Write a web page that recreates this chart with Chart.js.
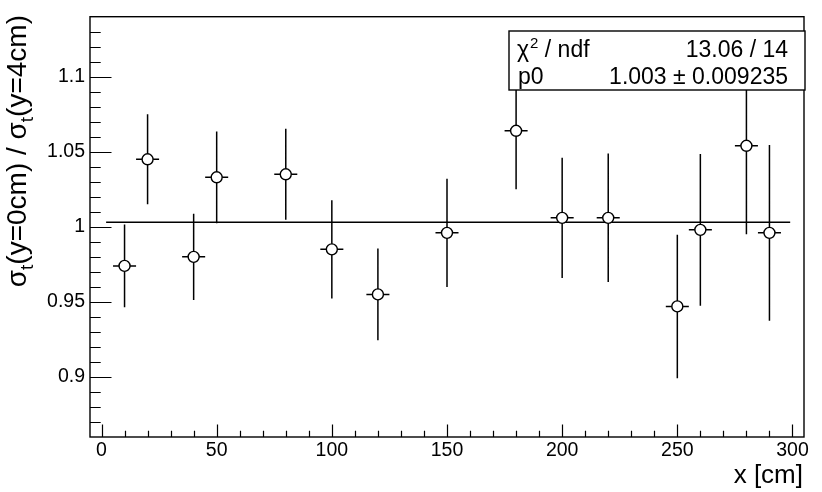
<!DOCTYPE html>
<html>
<head>
<meta charset="utf-8">
<script src="https://cdn.jsdelivr.net/npm/chart.js@4/dist/chart.umd.min.js"></script>
<style>
html,body{margin:0;padding:0;background:#fff;}
canvas{display:block;}
</style>
</head>
<body>
<canvas id="c" width="822" height="492"></canvas>
<script>
// ---- data ----
const xValues = [10, 20, 40, 50, 80, 100, 120, 150, 180, 200, 220, 250, 260, 280, 290];
const yValues = [0.974, 1.045, 0.980, 1.033, 1.035, 0.985, 0.955, 0.996, 1.064, 1.006, 1.006, 0.947, 0.998, 1.054, 0.996];
const yErrors = [0.0276, 0.0300, 0.0287, 0.0306, 0.0303, 0.0328, 0.0305, 0.0360, 0.0390, 0.0400, 0.0428, 0.0478, 0.0505, 0.0590, 0.0585];
const xErrors = [5, 5, 5, 5, 5, 5, 5, 5, 5, 5, 5, 5, 5, 5, 5];
const fitP0 = 1.003;
const fitRange = [2, 299];
const xTickValues = [0, 50, 100, 150, 200, 250, 300];
const xTickLabels = ['0', '50', '100', '150', '200', '250', '300'];
const yTickValues = [0.9, 0.95, 1.0, 1.05, 1.1];
const yTickLabels = ['0.9', '0.95', '1', '1.05', '1.1'];
const xMinorStep = 10, yMinorStep = 0.01;
const statRows = [['χ2 / ndf', '13.06 / 14'], ['p0', '1.003 ± 0.009235']];
const xTitle = 'x [cm]';

const FONT = '"Liberation Sans", Arial, Helvetica, sans-serif';

const rootPlugin = {
  id: 'rootStyle',
  beforeDatasetsDraw(chart) {
    const {ctx, chartArea: a, scales: {x, y}} = chart;
    ctx.save();
    ctx.strokeStyle = '#000';
    ctx.lineWidth = 1.4;
    ctx.strokeRect(a.left, a.top, a.right - a.left, a.bottom - a.top);
    ctx.lineWidth = 1.2;
    ctx.beginPath();
    for (let v = 0; v <= 300 + 1e-9; v += xMinorStep) {
      const px = Math.round(x.getPixelForValue(v)) + 0.5;
      const major = Math.abs(v % 50) < 1e-6;
      ctx.moveTo(px, a.bottom);
      ctx.lineTo(px, a.bottom - (major ? 12.5 : 6.3));
    }
    for (let k = 87; k <= 113; k++) {
      const v = k * yMinorStep;
      const py = Math.round(y.getPixelForValue(v)) + 0.5;
      const major = k % 5 === 0;
      ctx.moveTo(a.left, py);
      ctx.lineTo(a.left + (major ? 21.5 : 10.7), py);
    }
    ctx.stroke();
    ctx.restore();
  },
  beforeDatasetDraw(chart, args) {
    if (args.index !== 0) return;
    const {ctx, scales: {x, y}} = chart;
    ctx.save();
    ctx.strokeStyle = '#000';
    ctx.lineWidth = 1.5;
    ctx.beginPath();
    for (let i = 0; i < xValues.length; i++) {
      const px = x.getPixelForValue(xValues[i]);
      const py = y.getPixelForValue(yValues[i]);
      ctx.moveTo(px, y.getPixelForValue(yValues[i] - yErrors[i]));
      ctx.lineTo(px, y.getPixelForValue(yValues[i] + yErrors[i]));
      ctx.moveTo(x.getPixelForValue(xValues[i] - xErrors[i]), py);
      ctx.lineTo(x.getPixelForValue(xValues[i] + xErrors[i]), py);
    }
    ctx.stroke();
    ctx.restore();
  },
  afterDatasetsDraw(chart) {
    const {ctx} = chart;
    ctx.save();
    const bx0 = 509, by0 = 31, bx1 = 805, by1 = 90;
    ctx.fillStyle = '#fff';
    ctx.fillRect(bx0, by0, bx1 - bx0, by1 - by0);
    ctx.strokeStyle = '#000';
    ctx.lineWidth = 1.4;
    ctx.strokeRect(bx0, by0, bx1 - bx0, by1 - by0);
    ctx.fillStyle = '#000';
    ctx.textBaseline = 'alphabetic';
    const baselines = [56.5, 84];
    ctx.font = '23px ' + FONT;
    ctx.textAlign = 'left';
    let cx = 517;
    ctx.fillText('χ', cx, baselines[0]);
    cx += ctx.measureText('χ').width + 1;
    ctx.font = '15px ' + FONT;
    ctx.fillText('2', cx, baselines[0] - 9);
    cx += ctx.measureText('2').width;
    ctx.font = '23px ' + FONT;
    ctx.fillText(' / ndf', cx, baselines[0]);
    ctx.fillText(statRows[1][0], 518, baselines[1]);
    ctx.textAlign = 'right';
    ctx.fillText(statRows[0][1], 788, baselines[0]);
    ctx.fillText(statRows[1][1], 788, baselines[1]);
    ctx.restore();
  },
  afterDraw(chart) {
    const {ctx} = chart;
    ctx.save();
    ctx.fillStyle = '#000';
    ctx.font = '26px ' + FONT;
    ctx.textAlign = 'right';
    ctx.textBaseline = 'alphabetic';
    ctx.fillText(xTitle, 803, 483);
    const big = '28px ' + FONT, small = '19px ' + FONT;
    const parts = [['σ', big, 0], ['t', small, 7], ['(y=0cm) / ', big, 0], ['σ', big, 0], ['t', small, 7], ['(y=4cm)', big, 0]];
    let total = 0;
    for (const p of parts) { ctx.font = p[1]; total += ctx.measureText(p[0]).width; }
    ctx.translate(26, 15);
    ctx.rotate(-Math.PI / 2);
    ctx.textAlign = 'left';
    let lx = -total;
    for (const p of parts) {
      ctx.font = p[1];
      ctx.fillText(p[0], lx, p[2]);
      lx += ctx.measureText(p[0]).width;
    }
    ctx.restore();
  }
};

const pointData = xValues.map((v, i) => ({x: v, y: yValues[i]}));
const fitData = fitRange.map(v => ({x: v, y: fitP0}));

new Chart(document.getElementById('c'), {
  type: 'scatter',
  data: {
    datasets: [
      {
        label: 'data',
        data: pointData,
        order: 0,
        pointRadius: 5.5,
        pointBorderWidth: 1.4,
        pointBorderColor: '#000',
        pointBackgroundColor: '#fff',
        showLine: false
      },
      {
        label: 'fit',
        type: 'line',
        data: fitData,
        order: 1,
        borderColor: '#000',
        borderWidth: 1.5,
        pointRadius: 0,
        fill: false
      }
    ]
  },
  options: {
    responsive: false,
    animation: false,
    devicePixelRatio: 1,
    layout: {padding: {left: 0, top: 14, right: 18, bottom: 0}},
    plugins: {legend: {display: false}, tooltip: {enabled: false}},
    scales: {
      x: {
        type: 'linear', min: -5, max: 305,
        grid: {display: false, drawTicks: false},
        border: {display: false},
        afterBuildTicks: s => { s.ticks = xTickValues.map(v => ({value: v})); },
        afterFit: s => { s.height = 55; },
        ticks: {
          padding: 2, color: '#000', autoSkip: false, maxRotation: 0,
          font: {family: FONT, size: 19.5},
          callback: (v) => xTickLabels[xTickValues.indexOf(v)]
        }
      },
      y: {
        type: 'linear', min: 0.86, max: 1.14,
        grid: {display: false, drawTicks: false},
        border: {display: false},
        afterBuildTicks: s => { s.ticks = yTickValues.map(v => ({value: v})); },
        afterFit: s => { s.width = 90; },
        ticks: {
          padding: 5, color: '#000', autoSkip: false,
          font: {family: FONT, size: 19.5},
          callback: (v) => yTickLabels[yTickValues.indexOf(v)]
        }
      }
    }
  },
  plugins: [rootPlugin]
});
</script>
</body>
</html>
